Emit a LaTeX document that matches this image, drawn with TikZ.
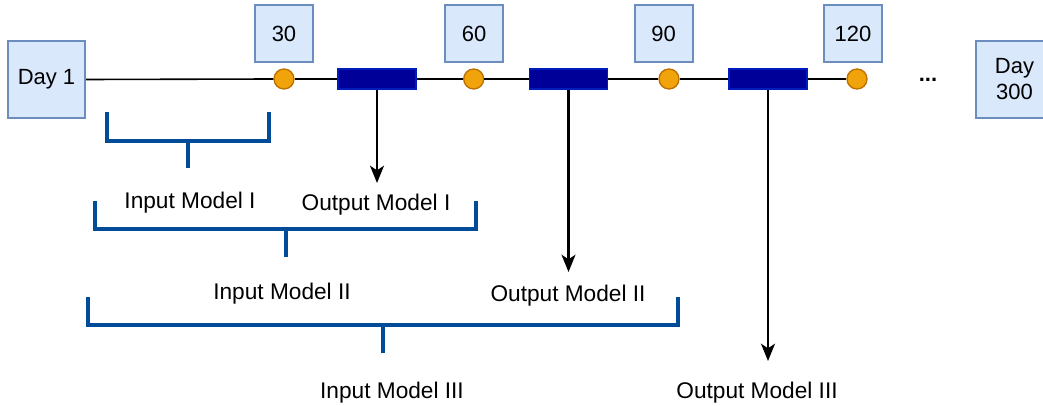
\documentclass[tikz,border=0pt]{standalone}
\usepackage{fontspec}
\setmainfont{Liberation Sans}
\usetikzlibrary{arrows.meta}
\definecolor{boxfill}{HTML}{DAE8FC}
\definecolor{boxline}{HTML}{6C8EBF}
\definecolor{dotfill}{HTML}{F0A30A}
\definecolor{dotline}{HTML}{BD7000}
\definecolor{barfill}{HTML}{000099}
\definecolor{barline}{HTML}{001DBC}
\definecolor{brk}{HTML}{004C99}
\tikzset{
  dbox/.style={draw=boxline, fill=boxfill, line width=1.5pt, inner sep=0pt, align=center},
  tdot/.style={circle, draw=dotline, fill=dotfill, line width=1pt, minimum size=20*0.75pt, inner sep=0pt},
  tbar/.style={rectangle, draw=barline, fill=barfill, line width=1pt, minimum width=78*0.75pt, minimum height=20*0.75pt, inner sep=0pt},
  tline/.style={draw=black, line width=1.2pt},
  outarrow/.style={draw=black, line width=1.6pt, -{Stealth[length=13pt, width=10.5pt, inset=3.5pt]}},
  bracket/.style={draw=brk, line width=2.3pt},
  lbl/.style={anchor=base, inner sep=0pt}
}
\begin{document}
\begin{tikzpicture}[x=0.75pt, y=-0.75pt, font=\fontsize{16.5pt}{19.5pt}\selectfont]
\useasboundingbox (0,0) rectangle (1043,406);
\clip (0,0) rectangle (1043,406);
% boxes
\node[dbox, minimum width=77*0.75pt, minimum height=77*0.75pt] (day1) at (46.5,79.5) {Day 1};
\node[dbox, minimum width=58*0.75pt, minimum height=57*0.75pt] (b30) at (284,33.5) {30};
\node[dbox, minimum width=58*0.75pt, minimum height=57*0.75pt] (b60) at (474,33.5) {60};
\node[dbox, minimum width=58*0.75pt, minimum height=57*0.75pt] (b90) at (663.5,33.5) {90};
\node[dbox, minimum width=58*0.75pt, minimum height=57*0.75pt] (b120) at (853,33.5) {120};
\node[dbox, minimum width=77*0.75pt, minimum height=77*0.75pt] (day300) at (1014.5,79.5) {Day\\300};
% timeline items
\node[tdot] (c1) at (284,79) {};
\node[tbar] (r1) at (377,79) {};
\node[tdot] (c2) at (473.7,79) {};
\node[tbar] (r2) at (568.5,79) {};
\node[tdot] (c3) at (669,79) {};
\node[tbar] (r3) at (768,79) {};
\node[tdot] (c4) at (857,79) {};
\node (dots) at (928,80) {\textbf{...}};
\draw[tline] (day1.east) -- (c1.west);
\draw[tline] (c1.east) -- (r1.west);
\draw[tline] (r1.east) -- (c2.west);
\draw[tline] (c2.east) -- (r2.west);
\draw[tline] (r2.east) -- (c3.west);
\draw[tline] (c3.east) -- (r3.west);
\draw[tline] (r3.east) -- (c4.west);
% arrows
\coordinate (a1) at (377,183);
\coordinate (a2) at (568.5,272);
\coordinate (a3) at (768,361);
\draw[outarrow] (r1.south) -- (a1);
\draw[outarrow] (r2.south) -- (a2);
\draw[outarrow] (r3.south) -- (a3);
% brackets
\draw[bracket] (107,112) -- (107,141) -- (269,141) -- (269,112);
\draw[bracket] (188,141) -- (188,168);
\draw[bracket] (95,201) -- (95,229) -- (476,229) -- (476,201);
\draw[bracket] (286,229) -- (286,257);
\draw[bracket] (88,297) -- (88,325) -- (678,325) -- (678,297);
\draw[bracket] (383,325) -- (383,353);
% labels
\node[lbl, font=\fontsize{17pt}{20pt}\selectfont] (in1) at (190,209) {Input Model I};
\node[lbl, font=\fontsize{17pt}{20pt}\selectfont] (out1) at (376,211) {Output Model I};
\node[lbl, font=\fontsize{17pt}{20pt}\selectfont] (in2) at (282,300) {Input Model II};
\node[lbl, font=\fontsize{17pt}{20pt}\selectfont] (out2) at (568,301) {Output Model II};
\node[lbl, font=\fontsize{17pt}{20pt}\selectfont] (in3) at (392,398) {Input Model III};
\node[lbl, font=\fontsize{17pt}{20pt}\selectfont] (out3) at (757,398) {Output Model III};
\end{tikzpicture}
\end{document}
